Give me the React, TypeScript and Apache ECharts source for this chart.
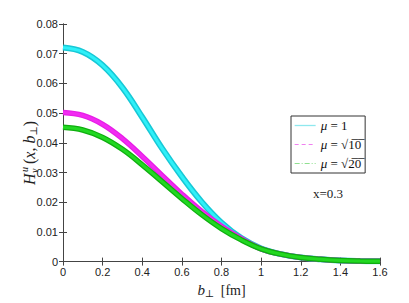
import React, { useEffect, useRef } from 'react';
import * as echarts from 'echarts';

const bPerp = [0, 0.1, 0.2, 0.3, 0.4, 0.5, 0.6, 0.7, 0.8, 0.9, 1.0, 1.1, 1.2, 1.3, 1.4, 1.5, 1.6];
const hMu1 = [0.0721, 0.0706, 0.0661, 0.0586, 0.0486, 0.0381, 0.0286, 0.0201, 0.0131, 0.0079, 0.0044, 0.0025, 0.0014, 0.0008, 0.0004, 0.0002, 0.0001];
const hMu10 = [0.0502, 0.0492, 0.0462, 0.0414, 0.0354, 0.029, 0.0227, 0.0169, 0.0119, 0.0077, 0.0043, 0.0025, 0.0014, 0.0008, 0.0004, 0.0002, 0.0001];
const hMu20 = [0.0452, 0.0443, 0.0418, 0.0378, 0.0326, 0.0269, 0.0212, 0.0158, 0.0111, 0.0073, 0.0043, 0.0025, 0.0014, 0.0008, 0.0004, 0.0002, 0.0001];
const legendLabels: Record<string, string> = {
  mu1: '{i|μ} = 1',
  mu10: '{i|μ} = √1̅0̅',
  mu20: '{i|μ} = √2̅0̅',
};

const pairs = (ys: number[]) => bPerp.map((b, i) => [b, ys[i]]);

export default function App() {
  const ref = useRef<HTMLDivElement>(null);
  useEffect(() => {
    if (!ref.current) return;
    const chart = echarts.init(ref.current, null, { renderer: 'svg' });
    const axisCol = '#444';
    const tickFont = { fontFamily: '"Liberation Sans", Arial, sans-serif', fontSize: 11, color: '#222' };
    const serif = '"Liberation Serif", "DejaVu Serif", serif';
    const mkLine = (name: string, ys: number[], color: string, width: number, z: number) => ({
      type: 'line',
      name,
      data: pairs(ys),
      smooth: 0.4,
      symbol: 'none',
      showSymbol: false,
      z,
      lineStyle: { color, width },
      itemStyle: { color },
      emphasis: { disabled: true },
    });
    const hidden = { color: 'rgba(0,0,0,0)', borderColor: 'rgba(0,0,0,0)', borderWidth: 0, opacity: 0 };
    chart.setOption({
      animation: false,
      backgroundColor: '#fff',
      grid: { left: 63, right: 29, top: 24, bottom: 35, containLabel: false },
      xAxis: [
        {
          type: 'value', min: 0, max: 1.6, interval: 0.2, position: 'bottom',
          axisLine: { show: true, lineStyle: { color: axisCol, width: 1 } },
          axisTick: { show: true, inside: true, length: 4, lineStyle: { color: axisCol } },
          splitLine: { show: false },
          axisLabel: { ...tickFont, margin: 5, formatter: (v: number) => String(Math.round(v * 10) / 10) },
          name: '{i|b}{s|⊥} [fm]',
          nameLocation: 'middle',
          nameGap: 18,
          nameTextStyle: {
            fontFamily: serif, fontSize: 14, color: '#222',
            rich: {
              i: { fontFamily: serif, fontStyle: 'italic', fontSize: 15, lineHeight: 16 },
              s: { fontFamily: serif, fontSize: 10, lineHeight: 10, verticalAlign: 'bottom', padding: [0, 3, 0, 0] },
            },
          },
        },
        {
          type: 'value', min: 0, max: 1.6, interval: 0.2, position: 'top',
          axisLine: { show: true, lineStyle: { color: axisCol, width: 1 } },
          axisTick: { show: true, inside: true, length: 4, lineStyle: { color: axisCol } },
          splitLine: { show: false },
          axisLabel: { show: false },
        },
      ],
      yAxis: [
        {
          type: 'value', min: 0, max: 0.08, interval: 0.01, position: 'left',
          axisLine: { show: true, lineStyle: { color: axisCol, width: 1 } },
          axisTick: { show: true, inside: true, length: 4, lineStyle: { color: axisCol } },
          splitLine: { show: false },
          axisLabel: { ...tickFont, margin: 5, formatter: (v: number) => (v === 0 ? '0' : v.toFixed(2)) },
        },
        {
          type: 'value', min: 0, max: 0.08, interval: 0.01, position: 'right',
          axisLine: { show: true, lineStyle: { color: axisCol, width: 1 } },
          axisTick: { show: true, inside: true, length: 4, lineStyle: { color: axisCol } },
          splitLine: { show: false },
          axisLabel: { show: false },
        },
      ],
      legend: {
        show: true,
        selectedMode: false,
        orient: 'vertical',
        left: 291,
        top: 116,
        itemWidth: 21,
        itemHeight: 14,
        itemGap: 6,
        padding: [3, 4, 3, 3],
        borderColor: '#333',
        borderWidth: 1,
        backgroundColor: '#fff',
        data: [
          { name: 'mu1', itemStyle: hidden, lineStyle: { color: '#8fe8ee', width: 1.3, type: 'solid', opacity: 1 } },
          { name: 'mu10', itemStyle: hidden, lineStyle: { color: '#f080f0', width: 1.2, type: [4, 3], opacity: 1 } },
          { name: 'mu20', itemStyle: hidden, lineStyle: { color: '#90e090', width: 1.2, type: [5, 2, 1, 2], opacity: 1 } },
        ],
        formatter: (n: string) => legendLabels[n] || n,
        textStyle: {
          fontFamily: serif, fontSize: 13, color: '#111',
          rich: { i: { fontFamily: serif, fontStyle: 'italic', fontSize: 13 } },
        },
      },
      graphic: [
        {
          type: 'group', x: 29, y: 150, rotation: Math.PI / 2,
          children: [
            { type: 'text', x: -35, y: 0, style: { text: 'H', font: `italic 16px ${serif}`, fill: '#222', verticalAlign: 'middle', align: 'left' } },
            { type: 'text', x: -22, y: -5, style: { text: 'u', font: `italic 10px ${serif}`, fill: '#222', verticalAlign: 'middle', align: 'left' } },
            { type: 'text', x: -23, y: 5, style: { text: 'v', font: `italic 10px ${serif}`, fill: '#222', verticalAlign: 'middle', align: 'left' } },
            {
              type: 'text', x: -14, y: 0,
              style: {
                text: '{n|(}{i|x}{n|, }{i|b}{s|⊥}{n|)}',
                verticalAlign: 'middle', align: 'left', fill: '#222',
                rich: {
                  n: { fontFamily: serif, fontSize: 16, lineHeight: 18, fill: '#222' },
                  i: { fontFamily: serif, fontStyle: 'italic', fontSize: 16, lineHeight: 18, fill: '#222' },
                  s: { fontFamily: serif, fontSize: 10, lineHeight: 10, verticalAlign: 'bottom', fill: '#222' },
                },
              },
            },
          ],
        },
        {
          type: 'text', x: 328, y: 193,
          style: { text: 'x=0.3', font: `13px ${serif}`, fill: '#222', align: 'center', verticalAlign: 'middle' },
        },
      ],
      series: [
        mkLine('mu1', hMu1, '#18c8d6', 6, 2),
        mkLine('mu1in', hMu1, '#2ef0f8', 3, 3),
        mkLine('mu10', hMu10, '#e61ee6', 5.5, 4),
        mkLine('mu10in', hMu10, '#f22af2', 3, 5),
        mkLine('mu20', hMu20, '#0fae0f', 5.5, 6),
        mkLine('mu20in', hMu20, '#22d822', 3, 7),
      ],
    });
    return () => chart.dispose();
  }, []);
  return <div ref={ref} style={{ position: 'fixed', left: 0, top: 0, width: 409, height: 303 }} />;
}
